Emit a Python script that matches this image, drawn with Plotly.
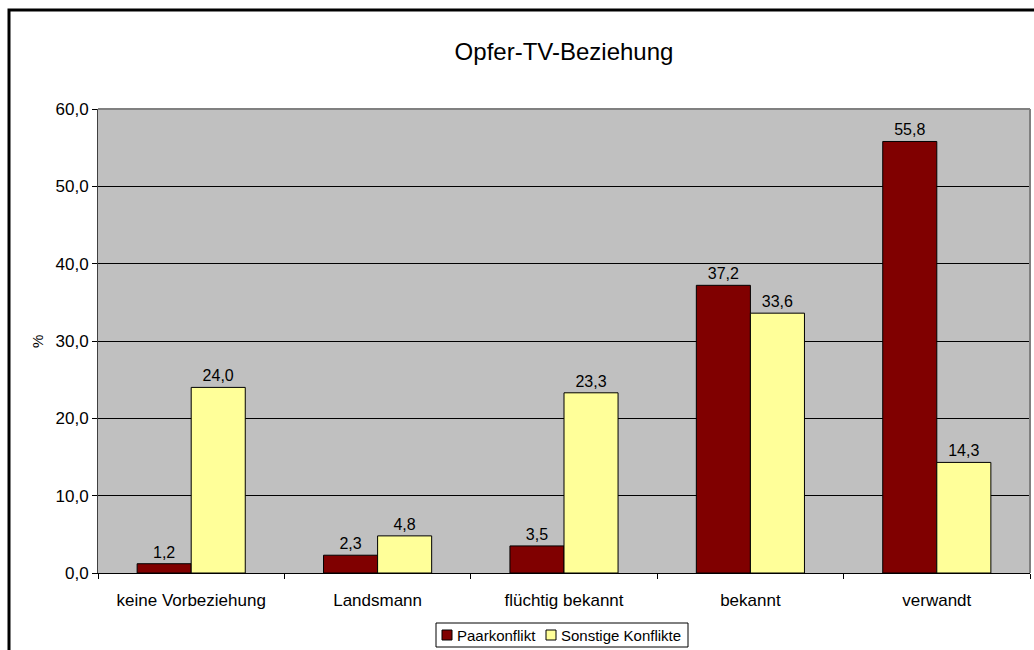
import plotly.graph_objects as go

categories = ["keine Vorbeziehung", "Landsmann", "flüchtig bekannt", "bekannt", "verwandt"]
paarkonflikt = [1.2, 2.3, 3.5, 37.2, 55.8]
sonstige = [24.0, 4.8, 23.3, 33.6, 14.3]
y_ticks = [0, 10, 20, 30, 40, 50, 60]
series_names = ["Paarkonflikt", "Sonstige Konflikte"]
series_colors = ["#800000", "#FFFF99"]

W, H = 1034, 650
L, R, T, B = 98, 1030, 109, 573
FONT = "Liberation Sans, Arial, sans-serif"

fig = go.Figure()
for name, vals, col in zip(series_names, [paarkonflikt, sonstige], series_colors):
    fig.add_trace(go.Bar(
        name=name, x=categories, y=vals,
        marker=dict(color=col, line=dict(color="black", width=1)),
        texttemplate="%{y:.1f}", textposition="outside",
        textfont=dict(size=16, color="black"), cliponaxis=False,
        showlegend=False,
    ))

pw = R - L
ph = B - T
def px(x):
    return (x - L) / pw
def py(y):
    return (B - y) / ph

shapes = [
    dict(type="line", xref="paper", yref="paper", x0=0, x1=1, y0=1, y1=1,
         line=dict(color="#808080", width=2)),
    dict(type="line", xref="paper", yref="paper", x0=1, x1=1, y0=0, y1=1,
         line=dict(color="#808080", width=2)),
    dict(type="rect", xref="paper", yref="paper",
         x0=px(9), x1=px(1045), y0=py(10), y1=py(665),
         line=dict(color="black", width=3)),
    # legend box
    dict(type="rect", xref="paper", yref="paper",
         x0=px(436), x1=px(688), y0=py(623), y1=py(647),
         line=dict(color="black", width=1), fillcolor="white"),
]
annotations = [
    dict(text="%", xref="paper", yref="paper", x=px(37), y=py(341),
         showarrow=False, textangle=-90, font=dict(size=15, color="black"),
         xanchor="center", yanchor="middle"),
]
legend_items = [(442, 457), (546, 561)]
for (sx, tx), name, col in zip(legend_items, series_names, series_colors):
    shapes.append(dict(type="rect", xref="paper", yref="paper",
                       x0=px(sx), x1=px(sx + 10), y0=py(630), y1=py(640),
                       line=dict(color="black", width=1), fillcolor=col))
    annotations.append(dict(text=name, xref="paper", yref="paper",
                            x=px(tx - 2), y=py(635), xanchor="left", yanchor="middle",
                            showarrow=False, font=dict(size=15, color="black")))

fig.update_layout(
    width=W, height=H,
    margin=dict(l=L, r=W - R, t=T, b=H - B, autoexpand=False),
    separators=",.",
    paper_bgcolor="white",
    plot_bgcolor="#C0C0C0",
    font=dict(family=FONT, size=16, color="black"),
    title=dict(text="Opfer-TV-Beziehung", x=0.5, xanchor="center", xref="paper",
               y=1 - 52 / H, yanchor="middle", font=dict(size=24, color="black")),
    barmode="group",
    bargap=0.42,
    bargroupgap=0,
    showlegend=False,
    xaxis=dict(showgrid=False, showline=True, linecolor="black", linewidth=1,
               ticks="outside", tickson="boundaries", ticklen=5, tickcolor="black",
               tickfont=dict(size=17), automargin=False, ticklabelstandoff=12),
    yaxis=dict(range=[0, 60], tickvals=y_ticks, tickformat=".1f",
               showgrid=True, gridcolor="black", gridwidth=1,
               showline=True, linecolor="#404040", linewidth=1,
               ticks="outside", ticklen=5, tickcolor="black",
               tickfont=dict(size=17), zeroline=False, automargin=False),
    shapes=shapes,
    annotations=annotations,
)

fig.write_html("out.html", config={"displayModeBar": False},
               post_script="document.body.style.margin='0';")
